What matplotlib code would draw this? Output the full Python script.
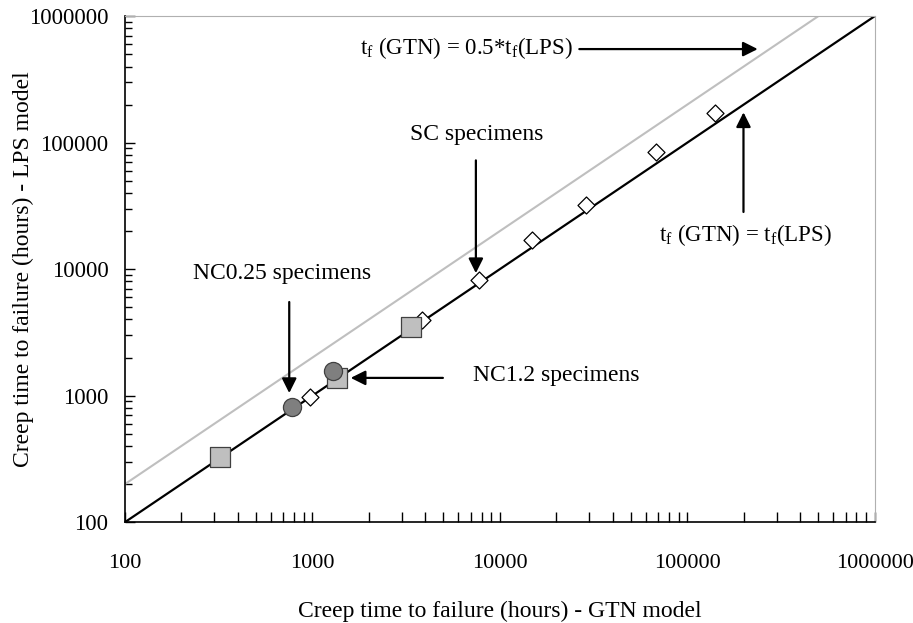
import matplotlib
matplotlib.use("Agg")
import matplotlib.pyplot as plt
import numpy as np
from matplotlib.ticker import LogLocator, NullFormatter, FixedLocator, FixedFormatter

plt.rcParams['font.family'] = ['Liberation Serif', 'DejaVu Serif']
plt.rcParams['mathtext.fontset'] = 'custom'
plt.rcParams['mathtext.rm'] = 'Liberation Serif'
plt.rcParams['mathtext.it'] = 'Liberation Serif:italic'

# SC specimens (diamonds)
sc_gtn = [970, 3840, 7730, 14800, 28760, 67900, 140200]
sc_lps = [975, 3950, 8180, 16950, 32060, 84100, 171100]

# NC1.2 specimens (squares)
nc12_gtn = [321, 1350, 3350]
nc12_lps = [326, 1375, 3480]

# NC0.25 specimens (circles)
nc025_gtn = [778, 1286]
nc025_lps = [811, 1563]

# reference lines
line_x = [100, 1000000]
half_x = [100, 500000]

ticks = [100, 1000, 10000, 100000, 1000000]
tick_labels = ["100", "1000", "10000", "100000", "1000000"]

FS = 17

fig = plt.figure(figsize=(9.13, 6.23), dpi=100)
ax = fig.add_axes([0.137, 0.162, 0.821, 0.812])

ax.plot(half_x, [2 * v for v in half_x], color="#bfbfbf", lw=1.5, zorder=2)
ax.plot(line_x, line_x, color="black", lw=1.6, zorder=2)

ax.scatter(sc_gtn, sc_lps, marker="D", s=75, facecolor="white",
           edgecolor="black", linewidth=0.9, zorder=3)
ax.scatter(nc12_gtn, nc12_lps, marker="s", s=190, facecolor="#bfbfbf",
           edgecolor="#404040", linewidth=0.9, zorder=3)
ax.scatter(nc025_gtn, nc025_lps, marker="o", s=170, facecolor="#7f7f7f",
           edgecolor="#404040", linewidth=0.9, zorder=4)

ax.set_xscale("log")
ax.set_yscale("log")
ax.set_xlim(100, 1000000)
ax.set_ylim(100, 1000000)

for a in (ax.xaxis, ax.yaxis):
    a.set_major_locator(FixedLocator(ticks))
    a.set_major_formatter(FixedFormatter(tick_labels))
    a.set_minor_locator(LogLocator(base=10, subs=np.arange(2, 10)))
    a.set_minor_formatter(NullFormatter())

ax.tick_params(axis="x", which="major", direction="in", length=7, width=1,
               labelsize=16, pad=23)
ax.tick_params(axis="x", which="minor", direction="in", length=7, width=1)
ax.tick_params(axis="y", which="major", direction="in", length=7, width=1,
               labelsize=16.5, pad=12)
ax.tick_params(axis="y", which="minor", direction="in", length=5, width=1)

for side in ("top", "right"):
    ax.spines[side].set_color("#b0b0b0")
for side in ("left", "bottom"):
    ax.spines[side].set_color("black")
    ax.spines[side].set_linewidth(1.2)

ax.set_xlabel("Creep time to failure (hours) - GTN model", fontsize=FS, labelpad=20)
ax.set_ylabel("Creep time to failure (hours) - LPS model", fontsize=FS)
ax.yaxis.set_label_coords(-0.122, 0.5)

arrow = dict(arrowstyle="-|>", color="black", lw=1.6, mutation_scale=22,
             shrinkA=0, shrinkB=0)
tf = r"$\mathrm{t_f}$"

ax.text(0.597, 0.937, tf + " (GTN) = 0.5*" + tf + "(LPS)", transform=ax.transAxes,
        ha="right", va="center", fontsize=16.5)
ax.annotate("", xy=(0.844, 0.935), xytext=(0.606, 0.935),
            xycoords="axes fraction", textcoords="axes fraction", arrowprops=arrow)

ax.text(0.469, 0.767, "SC specimens", transform=ax.transAxes,
        ha="center", va="center", fontsize=FS)
ax.annotate("", xy=(0.468, 0.492), xytext=(0.468, 0.715),
            xycoords="axes fraction", textcoords="axes fraction", arrowprops=arrow)

ax.text(0.827, 0.567, tf + " (GTN) = " + tf + "(LPS)", transform=ax.transAxes,
        ha="center", va="center", fontsize=16.5)
ax.annotate("", xy=(0.825, 0.810), xytext=(0.825, 0.613),
            xycoords="axes fraction", textcoords="axes fraction", arrowprops=arrow)

ax.text(0.209, 0.492, "NC0.25 specimens", transform=ax.transAxes,
        ha="center", va="center", fontsize=FS)
ax.annotate("", xy=(0.219, 0.255), xytext=(0.219, 0.435),
            xycoords="axes fraction", textcoords="axes fraction", arrowprops=arrow)

ax.text(0.464, 0.290, "NC1.2 specimens", transform=ax.transAxes,
        ha="left", va="center", fontsize=FS)
ax.annotate("", xy=(0.301, 0.285), xytext=(0.424, 0.285),
            xycoords="axes fraction", textcoords="axes fraction", arrowprops=arrow)

fig.savefig("out.png", dpi=100)
